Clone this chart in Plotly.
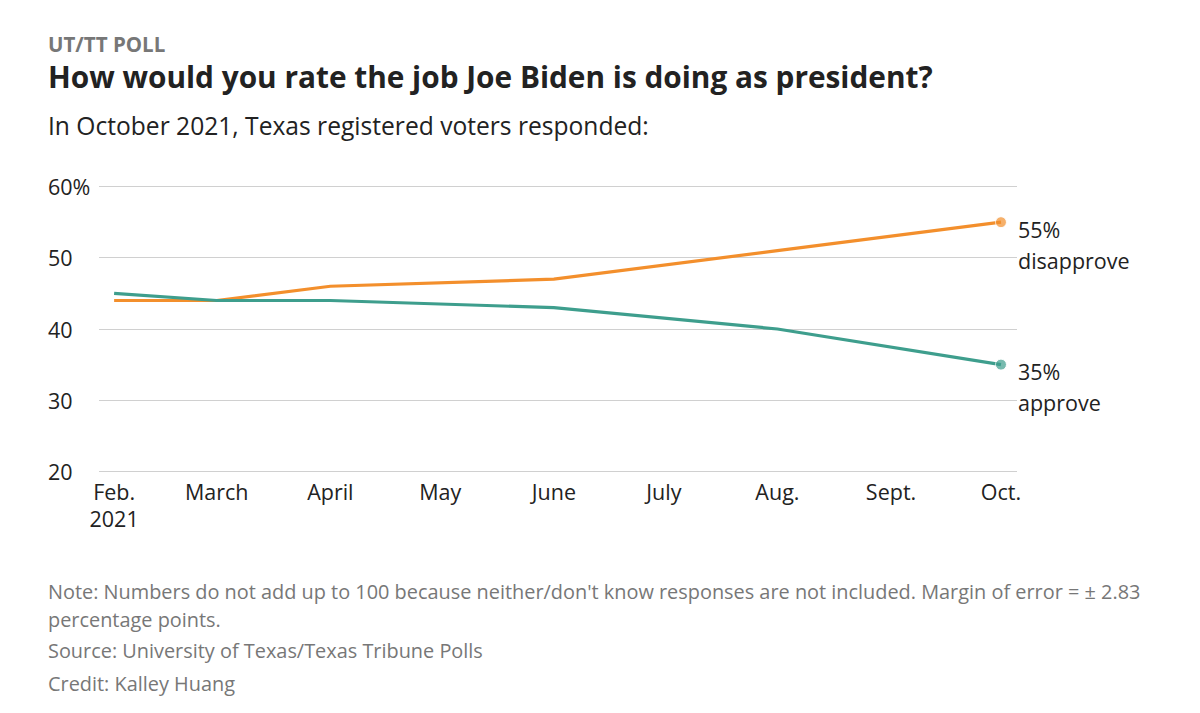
import plotly.graph_objects as go

poll_dates = ["2021-02-01", "2021-03-01", "2021-04-01", "2021-06-01", "2021-08-01", "2021-10-01"]
approve = [45, 44, 44, 43, 40, 35]
disapprove = [44, 44, 46, 47, 51, 55]

tick_dates = ["2021-02-01", "2021-03-01", "2021-04-01", "2021-05-01", "2021-06-01",
              "2021-07-01", "2021-08-01", "2021-09-01", "2021-10-01"]
tick_labels = ["Feb.<br>2021", "March", "April", "May", "June", "July", "Aug.", "Sept.", "Oct."]
y_ticks = [20, 30, 40, 50, 60]
y_tick_labels = ["20", "30", "40", "50", "60%"]

ORANGE = "#f38f2c"
TEAL = "#3e9e8d"
FONT = "Open Sans"
OFF = 8  # page body margin
W, H = 1200 - OFF, 713 - OFF
PX_L, PX_R, PX_T, PX_B = 99, 1017, 187, 471
YPAD = 0.5
PXU = (PX_B - PX_T) / 40.0
L = PX_L - OFF
R = W - (PX_R - OFF)
T = PX_T - OFF - YPAD * PXU
B = H - (PX_B - OFF) - YPAD * PXU
TX = 46  # left text x (annotation box edge)

fig = go.Figure()
n = len(poll_dates)
fig.add_trace(go.Scatter(x=poll_dates, y=disapprove, mode="lines+markers",
                         line=dict(color=ORANGE, width=3.2),
                         marker=dict(size=[0] * (n - 1) + [11], color=ORANGE),
                         hoverinfo="skip", showlegend=False))
fig.add_trace(go.Scatter(x=poll_dates, y=approve, mode="lines+markers",
                         line=dict(color=TEAL, width=3.2),
                         marker=dict(size=[0] * (n - 1) + [11], color=TEAL),
                         hoverinfo="skip", showlegend=False))

ann = []
pw = W - L - R
ph = H - T - B
AX = 21.5
for v, t in zip(y_ticks, y_tick_labels):
    ann.append(dict(x=(TX - PX_L) / pw, xref="paper", y=v, yref="y", text=t, showarrow=False,
                    xanchor="left", yanchor="middle", font=dict(family=FONT, size=AX, color="#222")))
for yv, lines in [(disapprove[-1], [f"{disapprove[-1]}%", "disapprove"]),
                  (approve[-1], [f"{approve[-1]}%", "approve"])]:
    for i, txt in enumerate(lines):
        ann.append(dict(x=poll_dates[-1], xref="x", y=yv, yref="y", text=txt, showarrow=False,
                        xanchor="left", yanchor="middle", xshift=15, yshift=-7 - 31 * i,
                        font=dict(family=FONT, size=AX, color="#222")))

def ptext(txt, ypix, size, color, bold=False):
    yp = ypix - OFF
    return dict(x=(TX - PX_L) / pw, xref="paper", y=1 - (yp - T) / ph, yref="paper",
                text=f"<b>{txt}</b>" if bold else txt, showarrow=False,
                xanchor="left", yanchor="middle", font=dict(family=FONT, size=size, color=color))

ann.append(ptext("UT/TT POLL", 45, 20.5, "#777", True))
ann.append(ptext("How would you rate the job Joe Biden is doing as president?", 77, 29.8, "#222", True))
ann.append(ptext("In October 2021, Texas registered voters responded:", 126, 24.6, "#222"))
ann.append(ptext("Note: Numbers do not add up to 100 because neither/don't know responses are not included. Margin of error = ± 2.83", 591, 19.9, "#777"))
ann.append(ptext("percentage points.", 619, 19.9, "#777"))
ann.append(ptext("Source: University of Texas/Texas Tribune Polls", 650, 19.9, "#777"))
ann.append(ptext("Credit: Kalley Huang", 682, 19.9, "#777"))

fig.update_layout(
    width=W, height=H,
    margin=dict(l=L, r=R, t=T, b=B, pad=0),
    paper_bgcolor="white", plot_bgcolor="white",
    font=dict(family=FONT, size=AX, color="#222"),
    annotations=ann,
    xaxis=dict(type="date", range=["2021-01-27 21:00", "2021-10-05 09:00"],
               tickvals=tick_dates, ticktext=tick_labels, showgrid=False, zeroline=False,
               showline=False, ticks="", tickfont=dict(family=FONT, size=AX, color="#222"),
               ticklabelstandoff=2, fixedrange=True),
    yaxis=dict(range=[20 - YPAD, 60 + YPAD], tickvals=y_ticks, showticklabels=False, showgrid=True,
               gridcolor="#d0d0d0", gridwidth=1, zeroline=False, showline=False, ticks="",
               fixedrange=True),
)

fig.write_html("out.html")
